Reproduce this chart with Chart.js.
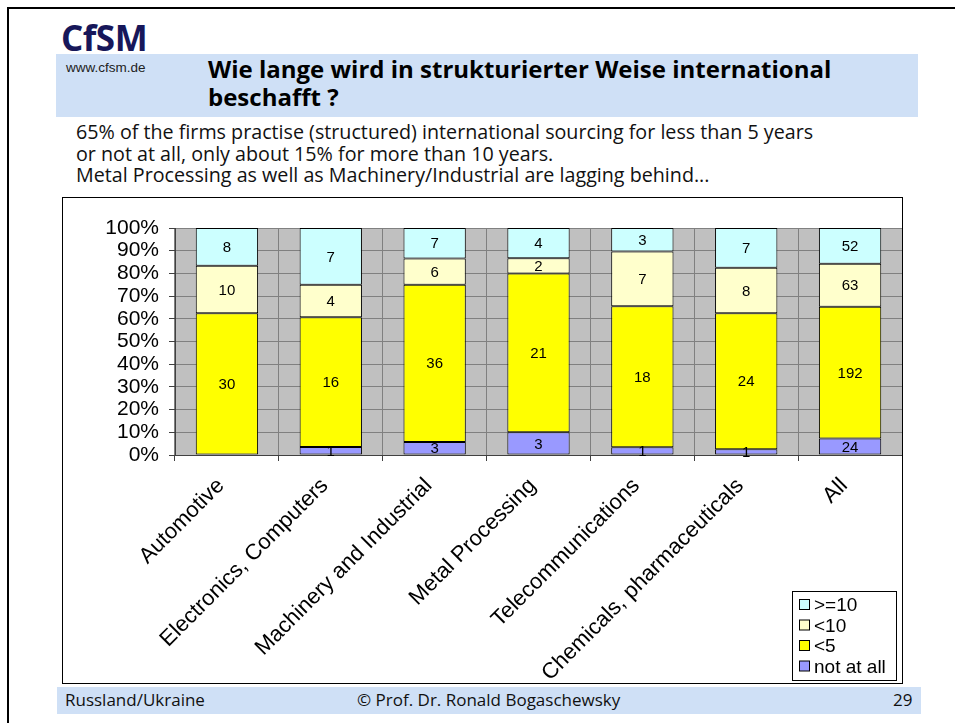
<!DOCTYPE html>
<html>
<head>
<meta charset="utf-8">
<script src="https://cdn.jsdelivr.net/npm/chart.js@4.4.1/dist/chart.umd.min.js"></script>
<style>
  body { margin: 0; width: 955px; height: 723px; background: #fff; position: relative; overflow: hidden; font-family: "Open Sans", sans-serif; }
  .frame { position: absolute; left: 7px; top: 7px; width: 1000px; height: 800px; border-left: 2px solid #000; border-top: 2px solid #000; }
  .band { position: absolute; left: 56px; top: 54px; width: 862px; height: 63px; background: #cfe0f6; }
  .logo { position: absolute; left: 61px; top: 14px; font-weight: bold; font-size: 35px; color: #17175a; letter-spacing: -0.5px; }
  .url { position: absolute; left: 66px; top: 60px; font-family: "Liberation Sans", Arial, sans-serif; font-size: 13.5px; color: #222; }
  .title { position: absolute; left: 208px; top: 55px; font-weight: bold; font-size: 24px; line-height: 28px; color: #000; }
  .body { position: absolute; left: 76px; top: 121px; font-size: 19.7px; line-height: 21.5px; color: #111; }
  .chartbox { position: absolute; left: 62px; top: 197px; width: 839px; height: 485px; border: 1px solid #000; }
  .foot { position: absolute; left: 57px; top: 687px; width: 864px; height: 27px; background: #cfe0f6; font-size: 17px; color: #111; }
  .foot span { position: absolute; top: 1px; }
</style>
</head>
<body>
<div class="frame"></div>
<div class="band"></div>
<div class="logo">CfSM</div>
<div class="url">www.cfsm.de</div>
<div class="title">Wie lange wird in strukturierter Weise international<br>beschafft ?</div>
<div class="body">65% of the firms practise (structured) international sourcing for less than 5 years<br>or not at all, only about 15% for more than 10 years.<br>Metal Processing as well as Machinery/Industrial are lagging behind...</div>
<div class="chartbox"><canvas id="c" width="839" height="485"></canvas></div>
<div class="foot"><span style="left:8px">Russland/Ukraine</span><span style="left:300px">© Prof. Dr. Ronald Bogaschewsky</span><span style="left:836px">29</span></div>
<script>
const categories = ['Automotive', 'Electronics, Computers', 'Machinery and Industrial', 'Metal Processing', 'Telecommunications', 'Chemicals, pharmaceuticals', 'All'];
const notAtAll = [0, 1, 3, 3, 1, 1, 24];
const lessThan5 = [30, 16, 36, 21, 18, 24, 192];
const lessThan10 = [10, 4, 6, 2, 7, 8, 63];
const tenOrMore = [8, 7, 7, 4, 3, 7, 52];
const yTicks = ['0%', '10%', '20%', '30%', '40%', '50%', '60%', '70%', '80%', '90%', '100%'];

const totals = categories.map((_, i) => notAtAll[i] + lessThan5[i] + lessThan10[i] + tenOrMore[i]);
const share = arr => arr.map((v, i) => v / totals[i] * 100);

const font = 'Liberation Sans, Arial, sans-serif';

const series = [
  { label: 'not at all', counts: notAtAll, color: '#9999ff' },
  { label: '<5', counts: lessThan5, color: '#ffff00' },
  { label: '<10', counts: lessThan10, color: '#ffffcc' },
  { label: '>=10', counts: tenOrMore, color: '#ccffff' }
];

// gray plot area
const plotBg = {
  id: 'plotBg',
  beforeDraw(chart) {
    const { ctx, chartArea: a } = chart;
    ctx.save();
    ctx.fillStyle = '#c0c0c0';
    ctx.fillRect(a.left, a.top, a.right - a.left, a.bottom - a.top);
    ctx.restore();
  }
};

// count labels in the middle of each segment
const segLabels = {
  id: 'segLabels',
  afterDatasetsDraw(chart) {
    const ctx = chart.ctx;
    ctx.save();
    ctx.font = '15px ' + font;
    ctx.fillStyle = '#000';
    ctx.textAlign = 'center';
    ctx.textBaseline = 'middle';
    chart.data.datasets.forEach((ds, di) => {
      chart.getDatasetMeta(di).data.forEach((bar, i) => {
        const n = ds.counts[i];
        if (!n) return;
        ctx.fillText(String(n), bar.x, (bar.y + bar.base) / 2 + 1);
      });
    });
    ctx.restore();
  }
};

// boxed legend bottom right
const boxLegend = {
  id: 'boxLegend',
  afterDraw(chart) {
    const ctx = chart.ctx;
    const w = 104, h = 89;
    const x = chart.width - 6 - w, y = chart.height - 3 - h;
    ctx.save();
    ctx.fillStyle = '#fff';
    ctx.fillRect(x, y, w, h);
    ctx.strokeStyle = '#000';
    ctx.lineWidth = 1;
    ctx.strokeRect(x + 0.5, y + 0.5, w, h);
    ctx.font = '19px ' + font;
    ctx.textBaseline = 'middle';
    const items = chart.data.datasets.slice().reverse();
    items.forEach((ds, k) => {
      const cy = y + 14 + k * 20.5;
      ctx.fillStyle = ds.backgroundColor;
      ctx.fillRect(x + 7.5, cy - 5.5, 10, 10);
      ctx.strokeRect(x + 7.5, cy - 5.5, 10, 10);
      ctx.fillStyle = '#000';
      ctx.fillText(ds.label, x + 22, cy + 1);
    });
    ctx.restore();
  }
};

new Chart(document.getElementById('c'), {
  type: 'bar',
  data: {
    labels: categories,
    datasets: series.map(s => ({
      label: s.label,
      counts: s.counts,
      data: share(s.counts),
      backgroundColor: s.color,
      borderColor: '#000',
      borderWidth: 1,
      borderSkipped: false,
      categoryPercentage: 1,
      barPercentage: 0.6
    }))
  },
  options: {
    responsive: false,
    animation: false,
    layout: { padding: { top: 30, right: 0, left: 0, bottom: 0 } },
    plugins: { legend: { display: false }, tooltip: { enabled: false } },
    scales: {
      x: {
        stacked: true,
        afterFit(s) { s.height = 228; },
        grid: { offset: true, color: '#808080', tickColor: '#404040', tickLength: 6 },
        border: { color: '#404040' },
        ticks: { minRotation: 45, maxRotation: 45, autoSkip: false, labelOffset: -6, color: '#000', font: { family: font, size: 22 }, padding: 12 }
      },
      y: {
        stacked: true,
        min: 0,
        max: 100,
        afterFit(s) { s.width = 112; },
        grid: { color: '#808080', tickColor: '#404040', tickLength: 6 },
        border: { color: '#404040' },
        ticks: {
          stepSize: 10,
          autoSkip: false,
          color: '#000',
          padding: 10,
          font: { family: font, size: 21 },
          callback: v => yTicks[Math.round(v / 10)]
        }
      }
    }
  },
  plugins: [plotBg, segLabels, boxLegend]
});
</script>
</body>
</html>
